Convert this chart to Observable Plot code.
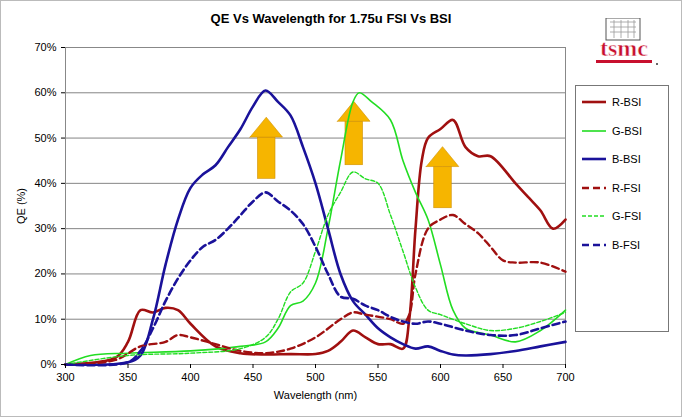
<!DOCTYPE html>
<html><head><meta charset="utf-8">
<script src="https://cdn.jsdelivr.net/npm/d3@7"></script>
<script src="https://cdn.jsdelivr.net/npm/@observablehq/plot@0.6"></script>
<style>
body{margin:0;width:682px;height:417px;background:#fff;font-family:Arial,"Liberation Sans",sans-serif;position:relative;overflow:hidden}
#frame{position:absolute;left:0;top:0;width:680px;height:415px;border:1px solid #bbb}
#title{height:36px;line-height:38px;text-align:center;font-weight:bold;font-size:13px;padding-right:20px}
#legend{position:absolute;left:575px;top:85px;width:92px;height:245px;border:1px solid #777;background:#fff}
.item{position:absolute;left:6px;font-size:11px;display:flex;align-items:center}
.item svg{margin-right:6px}
#logo{position:absolute;left:588px;top:18px;width:72px;height:50px}
</style></head>
<body>
<div id="frame"></div>
<div id="title">QE Vs Wavelength for 1.75u FSI Vs BSI</div>
<div id="chart"></div>
<div id="legend"></div>
<svg id="logo" viewBox="0 0 72 50">
  <rect x="18" y="0" width="34" height="22" fill="#fff" stroke="#555" stroke-width="1"/>
  <path d="M22 4h26M22 9h26M22 14h26M26 2v18M33 2v18M40 2v18M46 2v18" stroke="#999" stroke-width="0.8"/>
  <text x="36" y="38" text-anchor="middle" font-family="Liberation Serif,serif" font-weight="bold" font-size="24" fill="#c8102e" stroke="#fff" stroke-width="0.5">tsmc</text>
  <rect x="8" y="42" width="56" height="3" fill="#c8102e"/>
  <circle cx="69" cy="46" r="1" fill="#333"/>
</svg>
<script>
const rBsiNm = [300,340,350,360,370,380,390,400,420,440,460,480,500,510,520,530,540,550,560,570,575,580,585,590,600,610,620,630,640,660,670,680,690,700];
const rBsi   = [0,1.5,5,12,11.5,12.5,12,9,4,2.5,2.2,2.3,2.3,3,5,7.5,6,4.5,4.5,3.5,10,30,45,50,52,54,48,46,46,40,37,34,30,32];
const gBsiNm = [300,320,350,400,440,460,470,480,490,500,510,520,530,535,545,560,570,580,590,600,610,620,640,660,680,700];
const gBsi   = [0,2,2.5,3,4,5,8,13,14,18,30,45,58,60,58,54,45,38,32,22,12,8,6.5,5,7.5,12];
const bBsiNm = [300,350,360,370,380,390,400,410,420,430,440,450,460,470,480,490,500,510,520,530,540,550,560,570,580,590,600,610,620,640,660,680,700];
const bBsi   = [0,0.5,2,10,22,32,39,42,44,48,52,57,60.5,58,55,48,40,30,20,14,11,8,6,4.5,3.5,4,3,2.2,2,2.3,3,4,5];
const rFsiNm = [300,340,360,380,390,400,420,440,460,480,500,520,530,540,560,570,575,580,590,600,610,620,630,640,650,660,680,700];
const rFsi   = [0,1,4,5,6.5,6,4.5,3,2.5,3.5,6,10,11.5,11,10,9,11,20,30,32,33,31,29,26,23,22.5,22.5,20.5];
const gFsiNm = [300,350,400,440,460,470,480,490,500,510,520,530,540,550,560,570,580,590,600,620,640,660,680,700];
const gFsi   = [0,2,2.5,3.5,6,10,16,18,25,33,38,42.5,41,40,33,25,17,12,11,9,7.5,8,9.5,11.5];
const bFsiNm = [300,350,360,370,380,390,400,410,420,430,440,450,460,470,480,490,500,510,520,530,540,550,560,570,580,590,600,620,640,660,680,700];
const bFsi   = [0,0.5,3,8,14,19,23,26,27.5,30,33,36,38,36,34,31,26,20,15,14.5,13,12,10.5,9.5,9,9.5,9,7.5,6.5,6.5,8,9.5];
// orange arrows: centre wavelength, bottom and tip in %
const arrowNm  = [461, 531, 602];
const arrowLow = [41, 44, 34.5];
const arrowTop = [54.5, 58, 48];
const xTicks = [300,350,400,450,500,550,600,650,700];
const yTicks = [0,10,20,30,40,50,60,70];

const series = [
  {name:"R-BSI", nm:rBsiNm, v:rBsi, color:"#a01010", dash:null, w:2.6},
  {name:"G-BSI", nm:gBsiNm, v:gBsi, color:"#22dd22", dash:null, w:1.6},
  {name:"B-BSI", nm:bBsiNm, v:bBsi, color:"#1a129a", dash:null, w:2.6},
  {name:"R-FSI", nm:rFsiNm, v:rFsi, color:"#a01010", dash:"7,4", w:2.4},
  {name:"G-FSI", nm:gFsiNm, v:gFsi, color:"#22dd22", dash:"4,2", w:1.4},
  {name:"B-FSI", nm:bFsiNm, v:bFsi, color:"#1a129a", dash:"7,4", w:2.6}
];
const arrows = arrowNm.map((x,i) => ({x, lo:arrowLow[i], mid:arrowTop[i]-4.4, top:arrowTop[i]}));
const heads = arrows.map(a => Plot.areaY([
    {x: a.x - 13, y1: a.mid, y2: a.mid},
    {x: a.x, y1: a.mid, y2: a.top},
    {x: a.x + 13, y1: a.mid, y2: a.mid}
  ], {x: "x", y1: "y1", y2: "y2", fill: "#f6b500", stroke: "#d09000", strokeWidth: 0.6}));

const plot = Plot.plot({
  width: 682,
  height: 381,
  marginTop: 11,
  marginBottom: 53,
  marginLeft: 65,
  marginRight: 117,
  style: {fontFamily: "Arial, Liberation Sans, sans-serif", fontSize: "11px", color: "#000"},
  x: {domain: [300, 700]},
  y: {domain: [0, 70]},
  marks: [
    Plot.gridY(yTicks, {stroke: "#666", strokeOpacity: 0.8, strokeWidth: 1}),
    Plot.frame({stroke: "#888"}),
    Plot.rect(arrows, {x1: d => d.x - 7, x2: d => d.x + 7, y1: "lo", y2: "mid", fill: "#f6b500", stroke: "#d09000", strokeWidth: 0.6}),
    ...heads,
    ...series.map(s => Plot.line(s.nm.map((x, i) => ({x, y: s.v[i]})), {
      x: "x", y: "y", stroke: s.color, strokeWidth: s.w, strokeDasharray: s.dash, curve: "catmull-rom"
    })),
    Plot.axisX({ticks: xTicks, tickSize: 4, label: "Wavelength (nm)", labelAnchor: "center", labelArrow: "none", labelOffset: 34}),
    Plot.axisY({ticks: yTicks, tickSize: 4, tickFormat: d => d + "%", label: "QE (%)", labelAnchor: "center", labelArrow: "none", labelOffset: 48})
  ]
});
d3.select("#chart").append(() => plot);

const legend = d3.select("#legend");
series.forEach((s, i) => {
  const it = legend.append("div").attr("class", "item").style("top", (10 + i * 28.5) + "px");
  const sv = it.append("svg").attr("width", 24).attr("height", 8);
  sv.append("line").attr("x1", 0).attr("x2", 24).attr("y1", 4).attr("y2", 4)
    .attr("stroke", s.color).attr("stroke-width", s.w).attr("stroke-dasharray", s.dash);
  it.append("span").text(s.name);
});
</script>
</body></html>
